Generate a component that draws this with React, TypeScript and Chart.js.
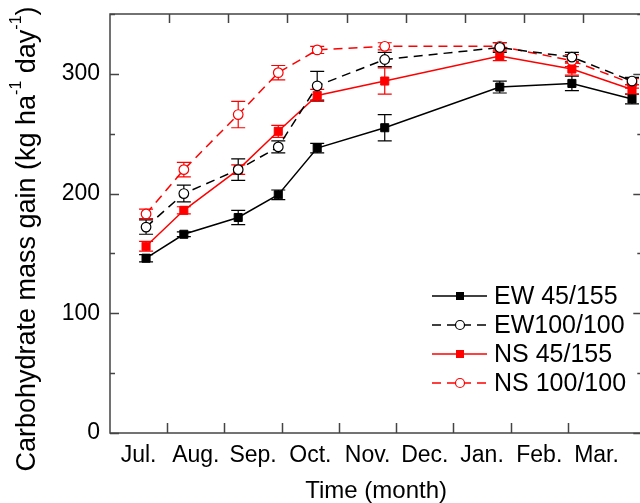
import { useEffect, useRef } from 'react';
import { Chart, registerables } from 'chart.js';

Chart.register(...registerables);

// ---- data ----
const monthLabels = ['Jul.', 'Aug.', 'Sep.', 'Oct.', 'Nov.', 'Dec.', 'Jan.', 'Feb.', 'Mar.'];
const monthLabelPositions = [0.5, 1.5, 2.5, 3.5, 4.5, 5.5, 6.5, 7.5, 8.5];
const monthBoundaryTicks = [1, 2, 3, 4, 5, 6, 7, 8];
// sampling dates expressed in months since 1 July
const samplingMonths = [0.63, 1.29, 2.24, 2.94, 3.62, 4.8, 6.81, 8.07, 9.12];

const ew45 = [146, 166, 180, 199, 238, 255, 289, 292, 279];
const ew45Err = [3, 2, 6, 4, 4, 11, 5, 6, 4];
const ew100 = [172, 200, 220, 239, 290, 312, 322, 314, 294];
const ew100Err = [6, 7, 9, 5, 12, 6, 4, 4, 3];
const ns45 = [156, 186, 220, 252, 282, 294, 315, 304, 287];
const ns45Err = [4, 3, 4, 5, 5, 11, 4, 5, 4];
const ns100 = [183, 220, 266, 301, 320, 323, 323, 311, 292];
const ns100Err = [4, 6, 11, 6, 3, 3, 3, 5, 4];

const seriesNames = ['EW 45/155', 'EW100/100', 'NS 45/155', 'NS 100/100'];
const yTickLabels = [0, 100, 200, 300];
const yTickMarks = [0, 50, 100, 150, 200, 250, 300, 350];

const FONT = "'Liberation Sans', Arial, sans-serif";
const FS = 23;

const decorPlugin = {
  id: 'decor',
  beforeDatasetsDraw(chart: any) {
    const { ctx } = chart;
    const ys = chart.scales.y;
    chart.data.datasets.forEach((ds: any, di: number) => {
      const meta = chart.getDatasetMeta(di);
      meta.data.forEach((pt: any, i: number) => {
        const v = ds.data[i].y;
        const e = ds.errors[i];
        const x = pt.x;
        const y1 = ys.getPixelForValue(v + e);
        const y2 = ys.getPixelForValue(v - e);
        ctx.save();
        ctx.strokeStyle = ds.borderColor;
        ctx.lineWidth = 1.2;
        ctx.setLineDash([]);
        ctx.beginPath();
        ctx.moveTo(x, y1);
        ctx.lineTo(x, y2);
        ctx.moveTo(x - 7, y1);
        ctx.lineTo(x + 7, y1);
        ctx.moveTo(x - 7, y2);
        ctx.lineTo(x + 7, y2);
        ctx.stroke();
        ctx.restore();
      });
    });
  },
  afterDraw(chart: any) {
    const { ctx, chartArea } = chart;
    const { left, right, top, bottom } = chartArea;
    const xs = chart.scales.x;
    const ys = chart.scales.y;
    ctx.save();
    ctx.strokeStyle = '#444';
    ctx.lineWidth = 1.5;
    ctx.setLineDash([]);
    ctx.strokeRect(left, top, right - left, bottom - top);
    ctx.beginPath();
    // bottom ticks (inward)
    monthBoundaryTicks.forEach((m) => {
      const px = Math.round(xs.getPixelForValue(m)) + 0.5;
      ctx.moveTo(px, bottom);
      ctx.lineTo(px, bottom - 10);
    });
    // top ticks: 9 equal divisions of the top axis
    for (let k = 1; k < 9; k++) {
      const px = Math.round(left + (k * (right - left)) / 9) + 0.5;
      ctx.moveTo(px, top);
      ctx.lineTo(px, top + 9);
    }
    // y ticks on both sides
    yTickMarks.forEach((v) => {
      const py = Math.round(ys.getPixelForValue(v)) + 0.5;
      const len = v % 100 === 0 ? 9 : 5;
      ctx.moveTo(left, py);
      ctx.lineTo(left + len, py);
      ctx.moveTo(right, py);
      ctx.lineTo(right - len, py);
    });
    ctx.stroke();
    ctx.restore();

    // y axis title with superscripts
    const parts = [
      { t: 'Carbohydrate mass gain (kg ha', sup: false },
      { t: '-1', sup: true },
      { t: ' day', sup: false },
      { t: '-1', sup: true },
      { t: ')', sup: false },
    ];
    const normalFont = `${27}px ${FONT}`;
    const supFont = `${16}px ${FONT}`;
    ctx.save();
    let total = 0;
    parts.forEach((p) => {
      ctx.font = p.sup ? supFont : normalFont;
      total += ctx.measureText(p.t).width;
    });
    ctx.translate(28, 239);
    ctx.rotate(-Math.PI / 2);
    ctx.fillStyle = '#000';
    ctx.textBaseline = 'middle';
    ctx.textAlign = 'left';
    let cx = -total / 2;
    parts.forEach((p) => {
      ctx.font = p.sup ? supFont : normalFont;
      ctx.fillText(p.t, cx, p.sup ? -11 : 0);
      cx += ctx.measureText(p.t).width;
    });
    ctx.restore();

    // legend
    ctx.save();
    chart.data.datasets.forEach((ds: any, i: number) => {
      const y = 296 + i * 29;
      ctx.strokeStyle = ds.borderColor;
      ctx.lineWidth = 1.5;
      ctx.setLineDash(ds.borderDash || []);
      ctx.beginPath();
      ctx.moveTo(432, y);
      ctx.lineTo(487, y);
      ctx.stroke();
      ctx.setLineDash([]);
      const mx = 460;
      if (ds.pointStyle === 'rect') {
        ctx.fillStyle = ds.borderColor;
        ctx.fillRect(mx - 4, y - 4, 8, 8);
      } else {
        ctx.fillStyle = '#fff';
        ctx.lineWidth = 1.2;
        ctx.beginPath();
        ctx.arc(mx, y, 4.5, 0, Math.PI * 2);
        ctx.fill();
        ctx.stroke();
      }
      ctx.fillStyle = '#000';
      ctx.font = `25px ${FONT}`;
      ctx.textBaseline = 'middle';
      ctx.textAlign = 'left';
      ctx.fillText(ds.label, 494, y + 1);
    });
    ctx.restore();
  },
};

function makeDataset(label: string, values: number[], errors: number[], color: string, filled: boolean, dashed: boolean) {
  return {
    label,
    data: samplingMonths.map((m, i) => ({ x: m, y: values[i] })),
    errors,
    borderColor: color,
    backgroundColor: color,
    borderWidth: 1.5,
    borderDash: dashed ? [9, 6] : [],
    pointStyle: filled ? 'rect' : 'circle',
    pointRadius: filled ? 5.7 : 4.8,
    pointBorderWidth: filled ? 1 : 1.2,
    pointBackgroundColor: filled ? color : '#fff',
    pointBorderColor: color,
    tension: 0,
    fill: false,
  };
}

function zeroPadding(scale: any) {
  scale.paddingLeft = 0;
  scale.paddingRight = 0;
  scale.paddingTop = 0;
  scale.paddingBottom = 0;
}

export default function App() {
  const ref = useRef<HTMLCanvasElement>(null);
  useEffect(() => {
    const canvas = ref.current!;
    const chart = new Chart(canvas, {
      type: 'line',
      data: {
        datasets: [
          makeDataset(seriesNames[0], ew45, ew45Err, '#000000', true, false),
          makeDataset(seriesNames[1], ew100, ew100Err, '#000000', false, true),
          makeDataset(seriesNames[2], ns45, ns45Err, '#ff0000', true, false),
          makeDataset(seriesNames[3], ns100, ns100Err, '#ff0000', false, true),
        ] as any,
      },
      options: {
        animation: false,
        responsive: false,
        devicePixelRatio: 1,
        layout: { padding: { top: 14, right: 1, left: 0, bottom: 0 } },
        plugins: { legend: { display: false }, tooltip: { enabled: false } },
        scales: {
          x: {
            type: 'linear',
            min: 0,
            max: 9.3,
            grid: { display: false, drawTicks: false },
            border: { display: false },
            afterBuildTicks: (scale: any) => {
              scale.ticks = monthLabelPositions.map((v) => ({ value: v }));
            },
            afterFit: (scale: any) => {
              scale.height = 70;
              zeroPadding(scale);
            },
            ticks: {
              autoSkip: false,
              maxRotation: 0,
              padding: 9,
              color: '#000',
              font: { family: FONT, size: FS },
              callback: (v: any) => monthLabels[monthLabelPositions.indexOf(Number(v))] ?? '',
            },
            title: {
              display: true,
              text: 'Time (month)',
              color: '#000',
              font: { family: FONT, size: 24 },
              padding: { top: 0, bottom: -3 },
            },
          },
          y: {
            type: 'linear',
            min: 0,
            max: 350,
            grid: { display: false, drawTicks: false },
            border: { display: false },
            afterBuildTicks: (scale: any) => {
              scale.ticks = yTickLabels.map((v) => ({ value: v }));
            },
            afterFit: (scale: any) => {
              scale.width = 110;
              zeroPadding(scale);
            },
            ticks: {
              padding: 10,
              color: '#000',
              font: { family: FONT, size: FS },
            },
          },
        },
      } as any,
      plugins: [decorPlugin],
    });
    return () => chart.destroy();
  }, []);
  return (
    <div style={{ position: 'fixed', left: 0, top: 0, width: 640, height: 503, overflow: 'hidden', background: '#fff' }}>
      <canvas ref={ref} width={649} height={503} style={{ display: 'block', width: 649, height: 503 }} />
    </div>
  );
}
